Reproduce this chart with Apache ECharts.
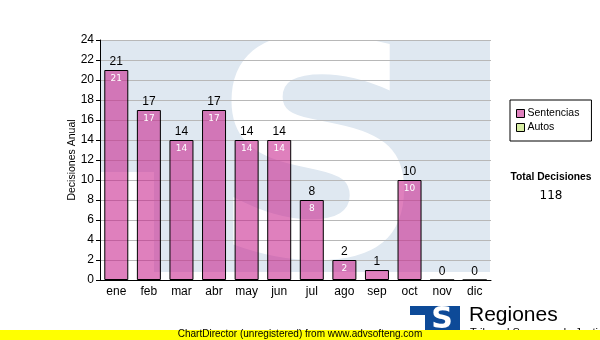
<!DOCTYPE html>
<html><head><meta charset="utf-8">
<script src="https://cdn.jsdelivr.net/npm/echarts@6/dist/echarts.min.js"></script>
<style>html,body{margin:0;padding:0;background:#fff}#c{width:600px;height:340px}</style>
</head><body><div id="c"></div>
<script>
const months = ['ene','feb','mar','abr','may','jun','jul','ago','sep','oct','nov','dic'];
const sentencias = [21,17,14,17,14,14,8,2,1,10,0,0];
const autos = [0,0,0,0,0,0,0,0,0,0,0,0];
const yMin = 0, yMax = 24, yInterval = 2;
const seriesNames = ['Sentencias','Autos'];
const totalDecisiones = sentencias.reduce((a,b)=>a+b,0) + autos.reduce((a,b)=>a+b,0);

const FONT = 'Liberation Sans, Arial, sans-serif';
const chart = echarts.init(document.getElementById('c'), null, {renderer:'canvas'});
chart.setOption({
  animation:false,
  backgroundColor:'#ffffff',
  textStyle:{fontFamily:FONT},
  grid:{left:100, right:109, top:40, bottom:60, containLabel:false},
  legend:{
    orient:'vertical', left:510, top:100, width:82,
    data:seriesNames,
    backgroundColor:'#fff', borderColor:'#000', borderWidth:1,
    padding:[8,12,8,6], itemGap:3, itemWidth:8, itemHeight:8, icon:'rect',
    textStyle:{fontSize:10.5, color:'#000', fontFamily:FONT, padding:[0,0,0,-2]},
    itemStyle:{borderColor:'#000', borderWidth:1}
  },
  xAxis:{
    type:'category', data:months,
    axisLine:{lineStyle:{color:'#000', width:1}},
    axisTick:{alignWithLabel:true, length:4, lineStyle:{color:'#000'}},
    axisLabel:{color:'#000', fontSize:12, margin:6, fontFamily:FONT},
    splitLine:{show:false}
  },
  yAxis:{
    type:'value', min:yMin, max:yMax, interval:yInterval,
    name:'Decisiones Anual', nameLocation:'middle', nameGap:22, nameMoveOverlap:false,
    nameTextStyle:{fontSize:10.5, color:'#000', fontFamily:FONT},
    axisLine:{show:true, lineStyle:{color:'#000', width:1}},
    axisTick:{show:true, length:4, lineStyle:{color:'#000'}},
    axisLabel:{color:'#000', fontSize:12, margin:6, fontFamily:FONT},
    splitLine:{show:true, lineStyle:{color:'#b8b8b8', width:1}}
  },
  series:[
    {
      name:'Sentencias', type:'bar', stack:'s', data:sentencias,
      barWidth:24,
      itemStyle:{color:'rgba(200,36,142,0.58)', borderColor:'#000', borderWidth:1},
      label:{show:true, position:'insideTop', distance:4, color:'#fff', fontSize:9, fontFamily:'DejaVu Sans, sans-serif',
        formatter:p=> p.value>=2 ? String(p.value) : ''},
      z:3
    },
    {
      name:'Autos', type:'bar', stack:'s', data:autos,
      barWidth:24,
      itemStyle:{color:'#d8eea4', borderColor:'#000', borderWidth:0},
      label:{show:true, position:'top', distance:2, color:'#000', fontSize:12, fontFamily:FONT,
        formatter:p=> String(sentencias[p.dataIndex] + autos[p.dataIndex])},
      z:3
    }
  ],
  graphic:[
    {type:'rect', z:-10, silent:true, shape:{x:100,y:40,width:390,height:232}, style:{fill:'#dfe8f1'}},
    {type:'rect', z:-9, silent:true, shape:{x:100,y:172,width:54,height:100}, style:{fill:'#ffffff'}},
    {type:'text', z:-8, silent:true,
      style:{x:318, y:178, text:'S', textAlign:'center', textVerticalAlign:'middle', font:'bold 300px "DejaVu Sans", sans-serif', fill:'#ffffff'}},
    {type:'text', style:{x:551, y:177, text:'Total Decisiones', textAlign:'center', textVerticalAlign:'middle', font:'bold 10.3px "Liberation Sans", Arial, sans-serif', fill:'#000'}},
    {type:'text', style:{x:551, y:196, text:String(totalDecisiones), textAlign:'center', textVerticalAlign:'middle', font:'12px "DejaVu Sans", sans-serif', fill:'#000'}},
    {type:'rect', shape:{x:410,y:306,width:16,height:9}, style:{fill:'#0d4a98'}},
    {type:'rect', shape:{x:425,y:306,width:35,height:30}, style:{fill:'#0d4a98'}},
    {type:'text', style:{x:442, y:320, text:'S', textAlign:'center', textVerticalAlign:'middle', font:'bold 30px "DejaVu Sans", sans-serif', fill:'#ffffff'}},
    {type:'text', left:469, top:305, style:{text:'Regiones', font:'21px "Liberation Sans", Arial, sans-serif', fill:'#000'}},
    {type:'text', left:470, top:327, style:{text:'Tribunal Supremo de Justicia', font:'11px "Liberation Sans", Arial, sans-serif', fill:'#000'}},
    {type:'rect', z:50, shape:{x:0,y:330,width:600,height:10}, style:{fill:'#ffff00'}},
    {type:'text', z:51, left:'center', top:329, style:{text:'ChartDirector (unregistered) from www.advsofteng.com', font:'10px "Liberation Sans", Arial, sans-serif', fill:'#000'}}
  ]
});
</script></body></html>
